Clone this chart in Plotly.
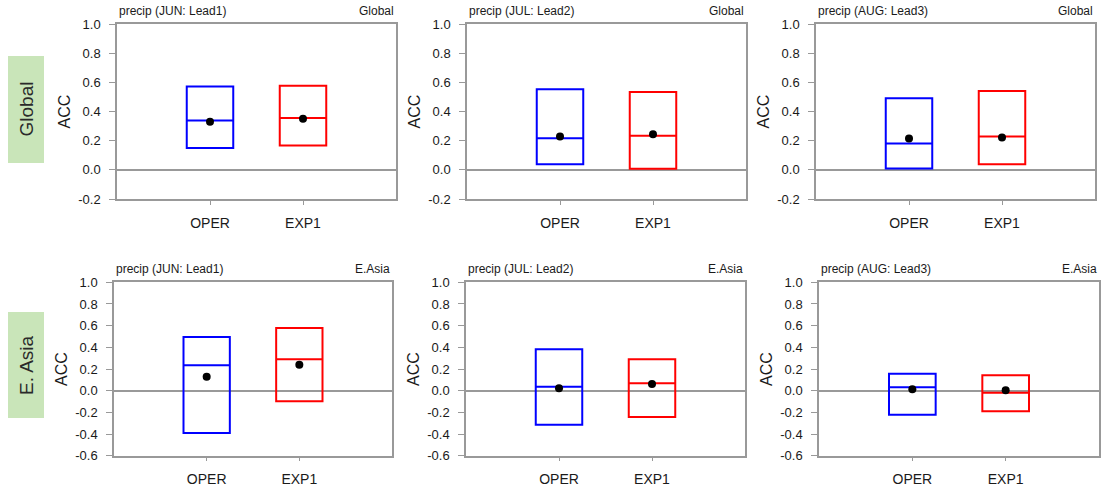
import plotly.graph_objects as go

# ---------------- data ----------------
months = ["JUN", "JUL", "AUG"]
leads = ["Lead1", "Lead2", "Lead3"]
regions = ["Global", "E.Asia"]
row_labels = ["Global", "E. Asia"]
experiments = ["OPER", "EXP1"]
exp_colors = ["#0000ff", "#ff0000"]

glob_oper_hi = [0.572, 0.553, 0.490]
glob_oper_lo = [0.150, 0.039, 0.009]
glob_oper_med = [0.338, 0.216, 0.180]
glob_oper_mean = [0.330, 0.228, 0.214]
glob_exp1_hi = [0.577, 0.534, 0.540]
glob_exp1_lo = [0.166, 0.007, 0.039]
glob_exp1_med = [0.356, 0.234, 0.228]
glob_exp1_mean = [0.350, 0.244, 0.221]

easia_oper_hi = [0.495, 0.382, 0.157]
easia_oper_lo = [-0.390, -0.314, -0.222]
easia_oper_med = [0.234, 0.037, 0.031]
easia_oper_mean = [0.129, 0.022, 0.012]
easia_exp1_hi = [0.578, 0.289, 0.142]
easia_exp1_lo = [-0.098, -0.243, -0.191]
easia_exp1_med = [0.289, 0.068, -0.018]
easia_exp1_mean = [0.240, 0.062, 0.003]

glob_yticks = [-0.2, 0.0, 0.2, 0.4, 0.6, 0.8, 1.0]
glob_yticktext = ["-0.2", "0.0", "0.2", "0.4", "0.6", "0.8", "1.0"]
easia_yticks = [-0.6, -0.4, -0.2, 0.0, 0.2, 0.4, 0.6, 0.8, 1.0]
easia_yticktext = ["-0.6", "-0.4", "-0.2", "0.0", "0.2", "0.4", "0.6", "0.8", "1.0"]

stats = {
    "Global": {
        "OPER": (glob_oper_lo, glob_oper_med, glob_oper_hi, glob_oper_mean),
        "EXP1": (glob_exp1_lo, glob_exp1_med, glob_exp1_hi, glob_exp1_mean),
    },
    "E.Asia": {
        "OPER": (easia_oper_lo, easia_oper_med, easia_oper_hi, easia_oper_mean),
        "EXP1": (easia_exp1_lo, easia_exp1_med, easia_exp1_hi, easia_exp1_mean),
    },
}

# ---------------- layout geometry (pixels) ----------------
W, H = 1102, 489
panel_x = [
    [(117, 396), (467, 746), (816, 1095)],
    [(114, 392), (466, 745), (819, 1099)],
]
panel_y = [(24, 199), (282.3, 455.7)]
yranges = [(-0.2, 1.0), (-0.6, 1.0)]
label_boxes = [(8, 56, 44, 163), (8, 312, 44, 418)]

AX = "#999999"
FONT = "Liberation Sans, Arial, Helvetica, sans-serif"

fig = go.Figure()
layout = dict(
    width=W, height=H, autosize=False,
    margin=dict(l=0, r=0, t=0, b=0, autoexpand=False),
    paper_bgcolor="white", plot_bgcolor="white",
    showlegend=False, font=dict(family=FONT, color="#1a1a1a"),
    boxmode="overlay",
)
annotations = []
shapes = []

idx = 0
for r, reg in enumerate(regions):
    yt = glob_yticks if r == 0 else easia_yticks
    ytt = glob_yticktext if r == 0 else easia_yticktext
    y0p, y1p = panel_y[r]
    ydom = [1 - y1p / H, 1 - y0p / H]
    for c in range(3):
        idx += 1
        sfx = "" if idx == 1 else str(idx)
        xname, yname = "x" + sfx, "y" + sfx
        x0p, x1p = panel_x[r][c]
        xdom = [x0p / W, x1p / W]
        for e, ex in enumerate(experiments):
            lo, med, hi, mean = stats[reg][ex]
            fig.add_trace(go.Box(
                x=[e + 1], q1=[lo[c]], median=[med[c]], q3=[hi[c]],
                lowerfence=[lo[c]], upperfence=[hi[c]],
                width=0.5, whiskerwidth=0, boxpoints=False,
                line=dict(color=exp_colors[e], width=2),
                fillcolor="rgba(0,0,0,0)",
                xaxis=xname, yaxis=yname, hoverinfo="skip",
            ))
            fig.add_trace(go.Scatter(
                x=[e + 1], y=[mean[c]], mode="markers",
                marker=dict(color="black", size=8),
                xaxis=xname, yaxis=yname, hoverinfo="skip",
            ))
        layout["xaxis" + sfx] = dict(
            domain=xdom, anchor=yname, range=[0, 3], automargin=False,
            tickvals=[1, 2], ticktext=experiments,
            ticks="outside", ticklen=4, tickcolor=AX, tickwidth=1,
            showline=True, linecolor=AX, linewidth=1.5, mirror=True,
            showgrid=False, zeroline=False,
            tickfont=dict(size=14, family=FONT, color="#1a1a1a"),
            ticklabelstandoff=6,
        )
        layout["yaxis" + sfx] = dict(
            domain=ydom, anchor=xname, range=list(yranges[r]), automargin=False,
            tickvals=yt, ticktext=ytt,
            ticks="outside", ticklen=6, tickcolor=AX, tickwidth=1,
            showline=True, linecolor=AX, linewidth=1.5, mirror=True,
            showgrid=False, zeroline=True, zerolinecolor=AX, zerolinewidth=1.5,
            tickfont=dict(size=13, family=FONT, color="#1a1a1a"),
            ticklabelstandoff=6,
            title=dict(text="ACC", font=dict(size=16, family=FONT, color="#1a1a1a"), standoff=4),
        )
        # panel titles
        annotations.append(dict(
            text=f"precip ({months[c]}: {leads[c]})", xref="paper", yref="paper",
            x=x0p / W, y=1 - (y0p - 4) / H, xanchor="left", yanchor="bottom",
            showarrow=False, font=dict(size=12, family=FONT, color="#1a1a1a"),
        ))
        annotations.append(dict(
            text=reg, xref="paper", yref="paper",
            x=x1p / W, y=1 - (y0p - 4) / H, xanchor="right", yanchor="bottom",
            showarrow=False, font=dict(size=12, family=FONT, color="#1a1a1a"),
        ))

# row labels on green background
for r, lab in enumerate(row_labels):
    bx0, by0, bx1, by1 = label_boxes[r]
    shapes.append(dict(
        type="rect", xref="paper", yref="paper",
        x0=bx0 / W, x1=bx1 / W, y0=1 - by1 / H, y1=1 - by0 / H,
        fillcolor="#c9e5b9", line=dict(width=0), layer="below",
    ))
    annotations.append(dict(
        text=lab, xref="paper", yref="paper",
        x=(bx0 + bx1) / 2 / W, y=1 - (by0 + by1) / 2 / H,
        xanchor="center", yanchor="middle", textangle=-90,
        showarrow=False, font=dict(size=19, family=FONT, color="#2a2a2a"),
    ))

layout["annotations"] = annotations
layout["shapes"] = shapes
fig.update_layout(**layout)
fig.write_html(
    "out.html",
    config={"displayModeBar": False},
    post_script="document.body.style.margin='0';document.body.style.padding='0';document.body.style.overflow='hidden';",
)
